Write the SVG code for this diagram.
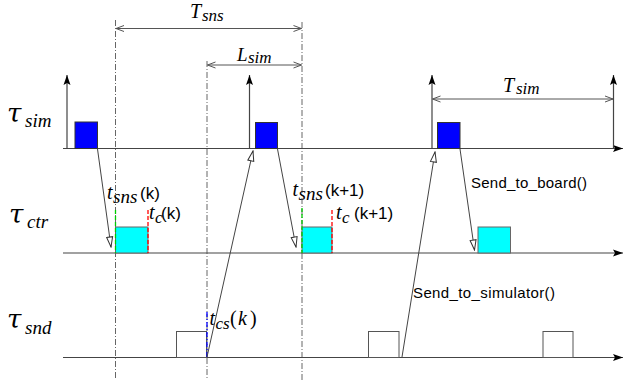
<svg xmlns="http://www.w3.org/2000/svg" width="624" height="385" viewBox="0 0 624 385">
<defs>
<style>
.axis{stroke:#444;stroke-width:1.2;fill:none}
.guide{stroke:#666;stroke-width:1;stroke-dasharray:6 2 1 2;fill:none}
.dim{stroke:#555;stroke-width:1;fill:none}
.conn{stroke:#444;stroke-width:1;fill:none}
.sim{fill:#0000ff;stroke:#333;stroke-width:1}
.ctr{fill:#00ffff;stroke:#666;stroke-width:1}
.snd{fill:#fff;stroke:#555;stroke-width:1}
.math{font-family:"Liberation Serif","DejaVu Serif",serif;font-style:italic;fill:#000}
.tau{font-family:"DejaVu Serif",serif;font-style:italic;fill:#000}
.sans{font-family:"Liberation Sans","DejaVu Sans",sans-serif;fill:#000}
</style>
<marker id="fill" markerUnits="userSpaceOnUse" markerWidth="10" markerHeight="10" viewBox="0 0 10 10" refX="10" refY="5" orient="auto">
<path d="M0,1.5 L10,5 L0,8.5 L2,5 Z" fill="#000"/>
</marker>
<marker id="tri" markerUnits="userSpaceOnUse" markerWidth="12" markerHeight="8" viewBox="0 0 12 8" refX="11" refY="4" orient="auto">
<path d="M1,1 L11,4 L1,7 Z" fill="#fff" stroke="#333" stroke-width="1"/>
</marker>
<marker id="chev" markerUnits="userSpaceOnUse" markerWidth="10" markerHeight="8" viewBox="0 0 10 8" refX="9" refY="4" orient="auto-start-reverse">
<path d="M1,1 L9,4 L1,7" fill="none" stroke="#555" stroke-width="1"/>
</marker>
</defs>
<rect width="624" height="385" fill="#fff"/>

<g id="guides">
<line class="guide" x1="115.5" y1="20" x2="115.5" y2="380"/>
<line class="guide" x1="207" y1="61" x2="207" y2="380"/>
<line class="guide" x1="302" y1="22" x2="302" y2="380"/>
</g>

<g id="axes">
<line class="axis" x1="63" y1="148.5" x2="623" y2="148.5" marker-end="url(#fill)"/>
<line class="axis" x1="63" y1="253" x2="623" y2="253" marker-end="url(#fill)"/>
<line class="axis" x1="63" y1="357.5" x2="623" y2="357.5" marker-end="url(#fill)"/>
<line class="axis" x1="67" y1="148.5" x2="67" y2="75" marker-end="url(#fill)"/>
<line class="axis" x1="249.5" y1="148.5" x2="249.5" y2="75" marker-end="url(#fill)"/>
<line class="axis" x1="432" y1="148.5" x2="432" y2="75" marker-end="url(#fill)"/>
<line class="axis" x1="613.5" y1="148.5" x2="613.5" y2="75" marker-end="url(#fill)"/>
</g>

<g id="axis-labels">
<text class="tau" x="7" y="122" font-size="26">τ<tspan class="math" x="25" y="127" font-size="19">sim</tspan></text>
<text class="tau" x="9" y="223" font-size="26">τ<tspan class="math" x="27" y="228" font-size="19">ctr</tspan></text>
<text class="tau" x="7" y="328" font-size="26">τ<tspan class="math" x="25" y="334" font-size="19">snd</tspan></text>
</g>

<g id="dimensions">
<line class="dim" x1="116" y1="28.5" x2="301.5" y2="28.5" marker-start="url(#chev)" marker-end="url(#chev)"/>
<text class="math" x="190" y="18" font-size="20">T<tspan x="202" y="21" font-size="17">sns</tspan></text>
<line class="dim" x1="207.5" y1="65" x2="301.5" y2="65" marker-start="url(#chev)" marker-end="url(#chev)"/>
<text class="math" x="237" y="61" font-size="19">L<tspan x="248" y="63" font-size="17">sim</tspan></text>
<line class="dim" x1="432.5" y1="99" x2="613" y2="99" marker-start="url(#chev)" marker-end="url(#chev)"/>
<text class="math" x="503" y="92" font-size="20">T<tspan x="516" y="94" font-size="17">sim</tspan></text>
</g>

<g id="sim1"><rect class="sim" x="75" y="122" width="22.5" height="26.5"/></g>
<g id="sim2"><rect class="sim" x="255.5" y="122.5" width="22" height="26"/></g>
<g id="sim3"><rect class="sim" x="437.5" y="122.5" width="22.5" height="26"/></g>

<g id="ctr1">
<rect class="ctr" x="115.5" y="227" width="32.5" height="26"/>
<line x1="115.5" y1="210" x2="115.5" y2="253" stroke="#00cc00" stroke-width="1.3" stroke-dasharray="4 2"/>
<line x1="148" y1="210" x2="148" y2="253" stroke="#ff0000" stroke-width="1.3" stroke-dasharray="4 2"/>
</g>
<g id="ctr2">
<rect class="ctr" x="302" y="227" width="30" height="26"/>
<line x1="302" y1="208" x2="302" y2="253" stroke="#00cc00" stroke-width="1.3" stroke-dasharray="4 2"/>
<line x1="332" y1="210" x2="332" y2="253" stroke="#ff0000" stroke-width="1.3" stroke-dasharray="4 2"/>
</g>
<g id="ctr3"><rect class="ctr" x="478" y="227" width="32.5" height="26"/></g>

<g id="snd1">
<rect class="snd" x="176.5" y="331.5" width="30" height="26"/>
<line x1="207" y1="312" x2="207" y2="357" stroke="#0000ff" stroke-width="1.3" stroke-dasharray="5 2 1 2"/>
</g>
<g id="snd2"><rect class="snd" x="368.5" y="331.5" width="30.5" height="26"/></g>
<g id="snd3"><rect class="snd" x="543" y="331.5" width="30" height="26"/></g>

<g id="connectors">
<line class="conn" x1="97.5" y1="149" x2="111" y2="247" marker-end="url(#tri)"/>
<line class="conn" x1="277.5" y1="149" x2="296" y2="247" marker-end="url(#tri)"/>
<line class="conn" x1="460" y1="149" x2="474.5" y2="250" marker-end="url(#tri)"/>
<line class="conn" x1="207" y1="357" x2="253" y2="151" marker-end="url(#tri)"/>
<line class="conn" x1="402" y1="357" x2="435" y2="152" marker-end="url(#tri)"/>
</g>

<g id="event-labels">
<text class="math" x="107" y="199" font-size="20">t<tspan x="113" y="203" font-size="19">sns</tspan><tspan class="sans" x="140" y="199" font-size="17" font-style="normal">(k)</tspan></text>
<text class="math" x="149" y="219" font-size="20">t<tspan x="155" y="223" font-size="17">c</tspan><tspan class="sans" x="161" y="219" font-size="17" font-style="normal">(k)</tspan></text>
<text class="math" x="292.5" y="196" font-size="20">t<tspan x="298.5" y="200" font-size="19">sns</tspan><tspan class="sans" x="325" y="196" font-size="17" font-style="normal">(k+1)</tspan></text>
<text class="math" x="336" y="219" font-size="20">t<tspan x="342" y="223" font-size="17">c</tspan><tspan class="sans" x="354" y="219" font-size="17" font-style="normal">(k+1)</tspan></text>
<text class="math" x="209.5" y="325" font-size="20">t<tspan x="215.5" y="329" font-size="17">cs</tspan><tspan x="230" y="325" font-size="20" font-style="normal">(</tspan><tspan x="238" y="325" font-size="20">k</tspan><tspan x="250" y="325" font-size="20" font-style="normal">)</tspan></text>
<text class="sans" x="471" y="188" font-size="15" textLength="116">Send_to_board()</text>
<text class="sans" x="413" y="298" font-size="15" textLength="142">Send_to_simulator()</text>
</g>
</svg>
